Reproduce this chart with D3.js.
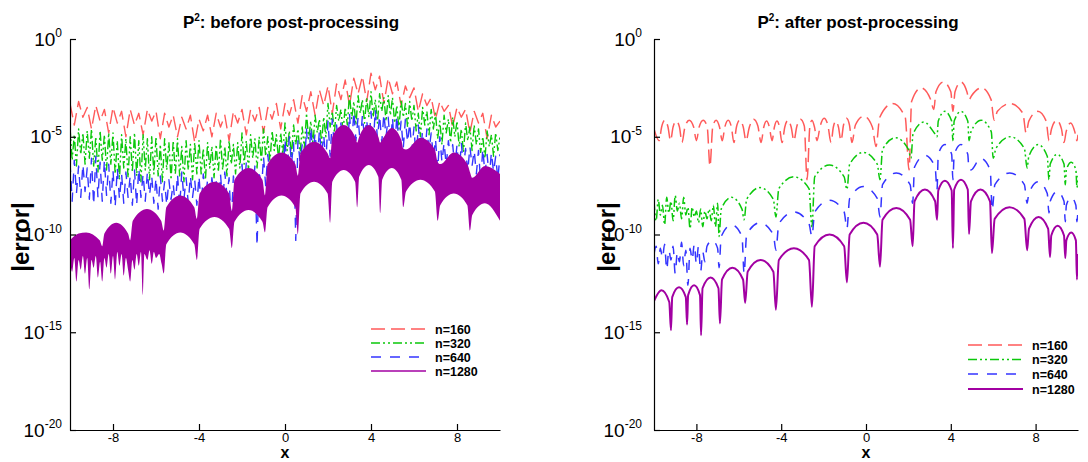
<!DOCTYPE html>
<html><head><meta charset="utf-8">
<script src="https://cdn.jsdelivr.net/npm/d3@7"></script>
<style>body{margin:0;background:#fff;} text{font-family:"Liberation Sans",Arial,sans-serif;fill:#000;}</style>
</head><body><svg id="c" width="1088" height="462"></svg>
<script>
// ---------- ticks / categories ----------
const xTicks = [-8, -4, 0, 4, 8];
const yTickExps = [0, -5, -10, -15, -20];
const seriesNames = ["n=160", "n=320", "n=640", "n=1280"];
const titles = ["before post-processing", "after post-processing"];

// ---------- LEFT panel (values are log10|error|) ----------
// evenly spaced over x in [-10,10]
const leftRed = [-3.3,-4.4,-3.2,-4.0,-3.5,-4.6,-3.4,-4.2,-3.6,-4.8,
 -3.5,-4.3,-3.7,-5.0,-3.6,-4.4,-3.8,-4.9,-3.6,-4.2,
 -3.7,-5.1,-3.8,-4.5,-3.9,-5.0,-4.0,-4.6,-3.9,-5.3,
 -4.1,-4.7,-3.9,-5.0,-3.8,-4.5,-3.9,-5.2,-3.7,-4.3,
 -3.6,-4.9,-3.6,-4.2,-3.5,-4.8,-3.5,-4.1,-3.3,-4.6,
 -3.3,-3.9,-3.1,-4.3,-2.9,-3.7,-2.7,-3.9,-2.6,-3.4,
 -2.4,-3.8,-2.3,-3.1,-2.1,-3.4,-2.0,-2.8,-1.9,-3.2,
 -1.75,-2.6,-1.9,-3.3,-2.0,-2.8,-2.2,-3.4,-2.4,-3.0,
 -2.5,-3.7,-2.8,-3.4,-3.0,-4.1,-3.2,-3.7,-3.4,-4.5,
 -3.5,-4.0,-3.6,-4.8,-3.7,-4.3,-3.8,-5.1,-3.9,-4.5,
 -4.2];
const leftGreen = [
 -4.5,-6.2,-4.9,-6.5,-4.6,-5.9,-4.8,-6.4,-4.7,-6.1,
 -4.6,-6.5,-5.0,-6.8,-4.7,-6.2,-4.9,-6.7,-4.8,-6.4,
 -4.8,-6.9,-5.2,-7.2,-4.9,-6.6,-5.1,-7.1,-5.0,-6.8,
 -4.8,-7.0,-5.2,-7.3,-4.9,-6.7,-5.1,-7.2,-5.0,-6.9,
 -5.0,-7.0,-5.4,-7.3,-5.1,-6.7,-5.3,-7.2,-5.2,-6.9,
 -5.1,-7.0,-5.5,-7.3,-5.2,-6.7,-5.4,-7.2,-5.3,-6.9,
 -5.2,-6.9,-5.6,-7.2,-5.3,-6.6,-5.5,-7.1,-5.4,-6.8,
 -5.1,-6.7,-5.5,-7.0,-5.2,-6.4,-5.4,-6.9,-5.3,-6.6,
 -4.8,-6.4,-5.2,-6.7,-4.9,-6.1,-5.1,-6.6,-5.0,-6.3,
 -4.6,-6.0,-5.0,-6.3,-4.7,-5.7,-4.9,-6.2,-4.8,-5.9,
 -4.3,-5.7,-4.7,-6.0,-4.4,-5.4,-4.6,-5.9,-4.5,-5.6,
 -3.8,-5.1,-4.2,-5.4,-3.9,-4.8,-4.1,-5.3,-4.0,-5.0,
 -3.3,-4.5,-3.7,-4.8,-3.4,-4.2,-3.6,-4.7,-3.5,-4.4,
 -2.8,-4.1,-3.2,-4.4,-2.9,-3.8,-3.1,-4.3,-3.0,-4.0,
 -2.7,-4.0,-3.1,-4.3,-2.8,-3.7,-3.0,-4.2,-2.9,-3.9,
 -3.0,-4.3,-3.4,-4.6,-3.1,-4.0,-3.3,-4.5,-3.2,-4.2,
 -3.4,-4.7,-3.8,-5.0,-3.5,-4.4,-3.7,-4.9,-3.6,-4.6,
 -3.8,-5.1,-4.2,-5.4,-3.9,-4.8,-4.1,-5.3,-4.0,-5.0,
 -4.2,-5.5,-4.6,-5.8,-4.3,-5.2,-4.5,-5.7,-4.4,-5.4,
 -4.6,-5.8,-5.0,-6.1,-4.7,-5.5,-4.9,-6.0,-4.8,-5.7,
 -5.0];
const leftBlue = [
 -6.3,-8.3,-6.2,-7.9,-6.5,-8.1,-6.4,-7.8,-6.6,-8.2,
 -6.1,-8.5,-6.0,-8.1,-6.3,-8.3,-6.2,-8.0,-6.4,-8.4,
 -6.7,-8.6,-6.6,-8.2,-6.9,-8.4,-6.8,-8.1,-7.0,-8.5,
 -6.7,-8.5,-6.6,-8.1,-6.9,-8.3,-6.8,-8.0,-7.0,-8.4,
 -7.1,-8.7,-7.0,-8.3,-7.3,-8.5,-7.2,-8.2,-7.4,-8.6,
 -6.9,-8.6,-6.8,-8.2,-7.1,-8.4,-7.0,-8.1,-7.2,-8.5,
 -7.0,-8.6,-6.9,-8.2,-7.2,-8.4,-7.1,-8.1,-7.3,-8.5,
 -6.9,-8.4,-6.8,-8.0,-7.1,-9.5,-7.0,-7.9,-7.2,-8.3,
 -6.4,-8.0,-6.3,-7.6,-6.6,-7.8,-6.5,-10.6,-6.7,-7.9,
 -6.0,-7.5,-5.9,-7.1,-6.2,-7.3,-6.1,-7.0,-6.3,-7.4,
 -5.1,-6.8,-5.0,-6.4,-5.3,-10.3,-5.2,-6.3,-5.4,-6.7,
 -4.6,-6.4,-4.5,-6.0,-4.8,-6.2,-4.7,-5.9,-4.9,-6.3,
 -4.2,-6.0,-4.1,-5.6,-4.4,-5.8,-4.3,-5.5,-4.5,-5.9,
 -3.8,-5.6,-3.7,-5.2,-4.0,-5.4,-3.9,-5.1,-4.1,-5.5,
 -3.7,-5.5,-3.6,-5.1,-3.9,-5.3,-3.8,-5.0,-4.0,-5.4,
 -4.0,-5.8,-3.9,-5.4,-4.2,-5.6,-4.1,-5.3,-4.3,-5.7,
 -4.5,-6.2,-4.4,-5.8,-4.7,-6.0,-4.6,-5.7,-4.8,-6.1,
 -5.1,-6.7,-5.0,-6.3,-5.3,-6.5,-5.2,-6.2,-5.4,-6.6,
 -5.4,-7.0,-5.3,-6.6,-5.6,-6.8,-5.5,-6.5,-5.7,-6.9,
 -5.7,-7.3,-5.6,-6.9,-5.9,-7.1,-5.8,-6.8,-6.0,-7.2,
 -5.9];
// n=1280 (dense oscillation, drawn as band): [x, log10] upper and lower envelopes
const leftPurpleUpper = [[-10,-10.3],[-9.6,-9.95],[-9.25,-9.9],[-8.62,-10.3],[-8.5,-10.6],
 [-8.4,-9.95],[-7.85,-9.4],[-7.3,-9.95],[-7.2,-10.3],
 [-7.08,-9.3],[-6.42,-8.7],[-5.76,-9.3],[-5.64,-9.8],
 [-5.52,-8.6],[-4.87,-8.0],[-4.22,-8.6],[-4.1,-9.2],
 [-3.97,-7.9],[-3.28,-7.3],[-2.6,-7.9],[-2.47,-8.8],
 [-2.35,-7.2],[-1.7,-6.6],[-1.05,-7.2],[-0.93,-8.0],
 [-0.81,-6.4],[-0.16,-5.8],[0.48,-6.4],[0.6,-7.0],
 [0.72,-5.85],[1.35,-5.25],[1.98,-5.85],[2.1,-6.1],
 [2.2,-5.0],[2.73,-4.4],[3.26,-5.0],[3.36,-5.3],
 [3.45,-5.0],[3.9,-4.4],[4.34,-5.0],[4.43,-5.3],
 [4.52,-5.15],[4.97,-4.55],[5.41,-5.15],[5.5,-5.6],
 [5.63,-5.65],[6.3,-5.05],[6.97,-5.65],[7.1,-6.3],
 [7.22,-6.4],[7.85,-5.8],[8.48,-6.4],[8.6,-6.8],
 [8.71,-7.1],[9.3,-6.5],[10,-6.9]];
const leftPurpleLower = [[-10,-11.3],[-9.9,-11.9],[-9.8,-11.2],[-9.7,-12.4],[-9.6,-11.3],[-9.5,-11.8],
 [-9.4,-11.1],[-9.3,-12.0],[-9.2,-11.2],[-9.1,-12.8],[-9.0,-11.3],[-8.9,-11.7],[-8.8,-11.1],
 [-8.7,-12.2],[-8.6,-11.4],[-8.5,-12.4],[-8.4,-11.2],[-8.3,-11.7],[-8.2,-11.0],[-8.1,-12.0],
 [-8.0,-11.1],[-7.9,-12.3],[-7.8,-10.9],[-7.7,-11.6],[-7.6,-11.0],[-7.5,-12.1],[-7.4,-11.2],
 [-7.3,-11.8],[-7.2,-12.4],[-7.1,-11.3],[-7.0,-11.8],[-6.9,-11.0],[-6.8,-11.6],[-6.7,-10.9],
 [-6.62,-13.1],[-6.54,-11.0],[-6.4,-11.3],[-6.3,-10.8],[-6.2,-11.5],[-6.1,-10.9],[-6.0,-11.2],
 [-5.85,-11.0],[-5.74,-11.5],[-5.64,-12.0],
 [-5.52,-10.5],[-4.87,-9.9],[-4.22,-10.5],[-4.1,-11.3],
 [-3.97,-9.7],[-3.28,-9.1],[-2.6,-9.7],[-2.47,-10.7],
 [-2.35,-9.35],[-1.7,-8.75],[-1.05,-9.35],[-0.93,-9.9],
 [-0.81,-8.6],[-0.16,-8.0],[0.48,-8.6],[0.6,-10.0],
 [0.72,-7.9],[1.35,-7.3],[1.98,-7.9],[2.1,-9.4],
 [2.2,-7.3],[2.73,-6.7],[3.26,-7.3],[3.36,-8.6],
 [3.45,-7.05],[3.9,-6.45],[4.34,-7.05],[4.43,-8.9],
 [4.52,-7.2],[4.97,-6.6],[5.41,-7.2],[5.5,-8.6],
 [5.63,-7.8],[6.3,-7.2],[6.97,-7.8],[7.1,-9.3],
 [7.22,-8.5],[7.85,-7.9],[8.48,-8.5],[8.6,-9.8],
 [8.71,-9.0],[9.3,-8.4],[10,-9.3]];

// ---------- RIGHT panel: [x, log10|error|] ----------
const rightRed = [[-10,-4.6],
 [-9.76,-5.2],[-9.64,-4.5],[-9.49,-4.15],[-9.34,-4.5],
 [-9.22,-5.2],[-9.1,-4.5],[-8.95,-4.2],[-8.8,-4.5],
 [-8.68,-5.3],[-8.55,-4.55],[-8.34,-4.15],[-8.13,-4.5],
 [-8.0,-5.2],[-7.87,-4.5],[-7.68,-4.15],[-7.49,-4.5],
 [-7.36,-6.5],[-7.23,-4.5],[-7.07,-4.15],[-6.91,-4.5],
 [-6.78,-5.2],[-6.66,-4.5],[-6.5,-4.15],[-6.35,-4.5],
 [-6.23,-5.3],[-6.11,-4.5],[-5.95,-4.15],[-5.79,-4.5],
 [-5.66,-5.2],[-5.5,-4.5],[-5.3,-4.1],[-5.1,-4.45],
 [-4.95,-5.3],[-4.82,-4.5],[-4.69,-4.2],[-4.56,-4.5],
 [-4.43,-5.2],[-4.32,-4.5],[-4.2,-4.2],[-4.08,-4.5],
 [-3.96,-5.3],[-3.83,-4.5],[-3.68,-4.15],[-3.53,-4.5],
 [-3.40,-5.2],[-3.27,-4.5],[-3.09,-4.1],[-2.91,-4.45],
 [-2.78,-7.2],[-2.65,-4.5],[-2.55,-4.15],[-2.43,-4.5],
 [-2.31,-5.2],[-2.16,-4.45],[-1.98,-4.05],[-1.8,-4.4],
 [-1.65,-5.3],[-1.54,-4.5],[-1.42,-4.2],[-1.3,-4.5],
 [-1.18,-5.2],[-1.06,-4.4],[-0.92,-4.05],[-0.78,-4.4],
 [-0.66,-5.3],[-0.5,-4.4],[-0.1,-3.95],[0.3,-4.5],
 [0.47,-5.5],[0.65,-4.0],[1.25,-3.3],[1.85,-4.0],
 [2.03,-6.7],[2.15,-3.2],[2.6,-2.5],[3.05,-3.1],
 [3.2,-3.6],[3.3,-2.7],[3.65,-2.2],[4.0,-2.7],
 [4.1,-3.7],[4.2,-2.7],[4.48,-2.2],[4.76,-2.7],
 [4.86,-3.1],[4.98,-2.9],[5.45,-2.5],[5.9,-3.1],
 [6.04,-4.15],[6.2,-3.7],[6.8,-3.3],[7.4,-3.8],
 [7.55,-4.8],[7.68,-4.2],[8.1,-3.7],[8.5,-4.2],
 [8.63,-5.2],[8.75,-4.6],[9.0,-4.15],[9.22,-4.6],
 [9.34,-5.3],[9.44,-4.75],[9.65,-4.3],[9.85,-4.75],
 [9.95,-5.2],[10,-4.9]];
const rightGreen = [[-10,-8.3],[-9.9,-9.3],[-9.8,-8.2],[-9.7,-9.0],[-9.6,-8.5],[-9.5,-9.5],
 [-9.4,-8.1],[-9.3,-8.9],[-9.2,-8.3],[-9.1,-9.3],[-9.0,-8.0],[-8.9,-8.8],[-8.8,-8.4],
 [-8.7,-9.2],[-8.6,-8.1],[-8.5,-9.0],[-8.4,-8.6],[-8.3,-9.7],[-8.2,-8.6],[-8.1,-9.1],
 [-8.0,-8.8],[-7.9,-9.4],[-7.8,-8.7],[-7.7,-9.6],[-7.6,-8.8],[-7.5,-9.2],[-7.4,-8.7],
 [-7.3,-9.3],[-7.2,-8.5],[-7.1,-9.6],[-7.0,-8.4],
 [-6.93,-10.1],[-6.83,-8.7],[-6.34,-8.1],[-5.85,-8.7],
 [-5.75,-9.25],[-5.63,-8.2],[-5.0,-7.6],[-4.37,-8.2],
 [-4.25,-9.1],[-4.11,-7.65],[-3.4,-7.05],[-2.69,-7.65],
 [-2.55,-9.6],[-2.42,-7.05],[-1.72,-6.45],[-1.03,-7.05],
 [-0.9,-7.7],[-0.77,-6.4],[-0.12,-5.8],[0.53,-6.4],
 [0.66,-7.2],[0.78,-5.65],[1.39,-5.05],[2.0,-5.65],
 [2.12,-6.1],[2.22,-4.85],[2.73,-4.25],[3.25,-4.85],
 [3.35,-5.0],[3.41,-4.2],[3.72,-3.7],[4.04,-4.2],
 [4.1,-5.2],[4.16,-4.2],[4.48,-3.7],[4.8,-4.2],
 [4.86,-5.2],[4.95,-4.75],[5.43,-4.15],[5.91,-4.75],
 [6.0,-6.1],[6.13,-5.6],[6.8,-5.0],[7.47,-5.6],
 [7.6,-6.6],[7.68,-6.0],[8.12,-5.4],[8.55,-6.0],
 [8.63,-7.2],[8.69,-6.4],[9.02,-5.9],[9.34,-6.4],
 [9.4,-7.45],[9.45,-6.7],[9.68,-6.3],[9.9,-6.7],
 [9.95,-7.6],[10,-7.0]];
const rightBlue = [[-10,-11.0],[-9.9,-10.6],[-9.8,-11.5],[-9.7,-10.7],[-9.6,-11.2],[-9.5,-10.5],
 [-9.4,-11.8],[-9.3,-10.8],[-9.2,-11.3],[-9.1,-10.6],[-9.0,-12.0],[-8.9,-10.9],[-8.8,-11.4],
 [-8.7,-10.4],[-8.6,-11.6],[-8.5,-10.8],[-8.4,-12.6],[-8.3,-10.7],[-8.2,-11.3],[-8.1,-10.5],
 [-8.0,-11.5],[-7.9,-10.6],[-7.8,-11.9],[-7.7,-10.9],[-7.6,-11.4],
 [-7.5,-10.6],[-7.25,-10.3],[-7.0,-10.7],
 [-6.93,-11.7],[-6.83,-10.1],[-6.34,-9.5],[-5.85,-10.1],
 [-5.75,-12.0],[-5.63,-10.0],[-5.0,-9.4],[-4.37,-10.0],
 [-4.25,-10.8],[-4.11,-9.45],[-3.4,-8.85],[-2.69,-9.45],
 [-2.55,-10.1],[-2.42,-8.85],[-1.72,-8.25],[-1.03,-8.85],
 [-0.9,-9.7],[-0.77,-8.15],[-0.12,-7.55],[0.53,-8.15],
 [0.66,-9.1],[0.78,-7.45],[1.43,-6.85],[2.08,-7.45],
 [2.2,-8.4],[2.29,-6.55],[2.78,-5.95],[3.26,-6.55],
 [3.35,-7.7],[3.41,-5.9],[3.72,-5.4],[4.04,-5.9],
 [4.1,-7.2],[4.16,-5.9],[4.48,-5.4],[4.8,-5.9],
 [4.86,-6.7],[4.95,-6.7],[5.4,-6.1],[5.86,-6.7],
 [5.95,-8.75],[6.08,-7.45],[6.78,-6.85],[7.47,-7.45],
 [7.6,-8.4],[7.68,-7.9],[8.12,-7.3],[8.55,-7.9],
 [8.63,-8.9],[8.69,-8.3],[9.02,-7.8],[9.34,-8.3],
 [9.4,-9.35],[9.45,-8.5],[9.68,-8.1],[9.9,-8.5],
 [9.95,-9.35],[10,-8.7]];
const rightPurple = [[-10,-13.4],[-9.65,-12.85],[-9.28,-13.45],
 [-9.2,-14.9],[-9.14,-13.2],[-8.82,-12.7],[-8.5,-13.2],
 [-8.44,-14.6],[-8.39,-13.1],[-8.11,-12.6],[-7.83,-13.1],
 [-7.78,-15.15],[-7.71,-12.75],[-7.33,-12.2],[-6.96,-12.75],
 [-6.89,-14.55],[-6.79,-12.3],[-6.3,-11.7],[-5.8,-12.3],
 [-5.7,-13.5],[-5.58,-11.9],[-4.98,-11.3],[-4.37,-11.9],
 [-4.25,-13.85],[-4.11,-11.3],[-3.4,-10.7],[-2.69,-11.3],
 [-2.55,-13.7],[-2.42,-10.6],[-1.72,-10.0],[-1.03,-10.6],
 [-0.9,-12.45],[-0.77,-10.0],[-0.12,-9.4],[0.53,-10.0],
 [0.66,-11.65],[0.78,-9.25],[1.43,-8.65],[2.08,-9.25],
 [2.2,-10.6],[2.29,-8.3],[2.78,-7.7],[3.26,-8.3],
 [3.35,-9.25],[3.41,-7.75],[3.72,-7.25],[4.04,-7.75],
 [4.1,-10.7],[4.16,-7.7],[4.48,-7.2],[4.8,-7.7],
 [4.86,-9.97],[4.95,-8.3],[5.4,-7.7],[5.85,-8.3],
 [5.94,-10.95],[6.07,-9.2],[6.77,-8.6],[7.47,-9.2],
 [7.6,-10.8],[7.69,-9.7],[8.14,-9.1],[8.59,-9.7],
 [8.68,-11.15],[8.74,-10.05],[9.04,-9.55],[9.34,-10.05],
 [9.4,-11.2],[9.45,-10.3],[9.68,-9.9],[9.9,-10.3],
 [9.95,-12.3],[10,-11.0]];

// ---------- styles ----------
const colors = ["#ff5a5a", "#0bc80b", "#3434ff", "#a200a2"];
const dashes = ["14,6", "9,3,2,3,2,3", "10,9", null];

const svg = d3.select("#c");
const yTop = 39, yBot = 430;
const panels = [
  {x0: 70, x1: 500, labGap: 8, yLabX: 29, titleX: 291, legX: 371, legY: [329, 343, 357, 371]},
  {x0: 654, x1: 1078, labGap: 12, yLabX: 615, titleX: 858, legX: 968, legY: [345, 359.5, 374, 389]}
];

function toPairs(arr) {
  const step = 20 / (arr.length - 1);
  return arr.map((v, i) => [-10 + i * step, v]);
}

panels.forEach((p, pi) => {
  const x = d3.scaleLinear().domain([-10, 10]).range([p.x0, p.x1]);
  const y = d3.scaleLog().domain([1e-20, 1]).range([yBot, yTop]);
  const Y = e => y(Math.pow(10, e));
  const g = svg.append("g");

  const clipId = "clip" + pi;
  svg.append("clipPath").attr("id", clipId).append("rect")
    .attr("x", p.x0).attr("y", yTop).attr("width", p.x1 - p.x0).attr("height", yBot - yTop);
  const plot = g.append("g").attr("clip-path", `url(#${clipId})`);

  const lineLin = d3.line().x(d => x(d[0])).y(d => Y(d[1]));
  const lineMono = d3.line().x(d => x(d[0])).y(d => Y(d[1])).curve(d3.curveMonotoneX);

  let series;
  if (pi === 0) {
    series = [
      {d: lineLin(toPairs(leftRed)), i: 0, w: 1.4},
      {d: lineLin(toPairs(leftGreen)), i: 1, w: 1.4},
      {d: lineLin(toPairs(leftBlue)), i: 2, w: 1.4}
    ];
  } else {
    series = [
      {d: lineMono(rightRed), i: 0, w: 1.5},
      {d: lineMono(rightGreen), i: 1, w: 1.5},
      {d: lineMono(rightBlue), i: 2, w: 1.5},
      {d: lineMono(rightPurple), i: 3, w: 2}
    ];
  }
  series.forEach(s => {
    plot.append("path").attr("d", s.d).attr("fill", "none")
      .attr("stroke", colors[s.i]).attr("stroke-width", s.w)
      .attr("stroke-dasharray", dashes[s.i]).attr("stroke-linejoin", "round");
  });

  if (pi === 0) {
    // dense n=1280 oscillation -> band between envelopes
    const upArea = d3.area().x(d => x(d[0])).y0(yBot).y1(d => Y(d[1])).curve(d3.curveMonotoneX);
    const loArea = d3.area().x(d => x(d[0])).y0(yTop).y1(d => Y(d[1])).curve(d3.curveMonotoneX);
    svg.append("clipPath").attr("id", "band0").append("path").attr("d", loArea(leftPurpleLower));
    plot.append("g").attr("clip-path", "url(#band0)")
      .append("path").attr("d", upArea(leftPurpleUpper)).attr("fill", colors[3]);
  }

  // axes
  const yAxis = d3.axisLeft(y).tickValues(yTickExps.map(e => Math.pow(10, e)))
    .tickSize(-6).tickSizeOuter(0).tickFormat("");
  const xAxis = d3.axisBottom(x).tickValues(xTicks).tickSize(-6).tickSizeOuter(0)
    .tickPadding(3).tickFormat(d => String(d));
  const ya = g.append("g").attr("transform", `translate(${p.x0},0)`).call(yAxis);
  const xa = g.append("g").attr("transform", `translate(0,${yBot})`).call(xAxis);
  [ya, xa].forEach(a => {
    a.selectAll("path,line").attr("stroke", "#000").attr("stroke-width", 1.2);
  });
  xa.selectAll("text").attr("font-size", 13).attr("font-family", '"Liberation Sans",Arial,sans-serif').attr("fill", "#000");

  yTickExps.forEach(e => {
    const t = g.append("text").attr("x", p.x0 - p.labGap).attr("y", Y(e) + 6.5)
      .attr("text-anchor", "end").attr("font-size", 19);
    t.append("tspan").text("10");
    t.append("tspan").attr("dy", -8.5).attr("font-size", 12).text(String(e));
  });

  // title
  const tt = g.append("text").attr("x", p.titleX).attr("y", 28)
    .attr("text-anchor", "middle").attr("font-size", 17).attr("font-weight", "bold");
  tt.append("tspan").text("P");
  tt.append("tspan").attr("dy", -7).attr("font-size", 10).text("2");
  tt.append("tspan").attr("dy", 7).text(": " + titles[pi]);

  // axis titles
  g.append("text").attr("transform", `translate(${p.yLabX},${237}) rotate(-90)`)
    .attr("text-anchor", "middle").attr("font-size", 24).attr("font-weight", "bold").text("|error|");
  g.append("text").attr("x", (p.x0 + p.x1) / 2).attr("y", 458)
    .attr("text-anchor", "middle").attr("font-size", 16).attr("font-weight", "bold").text("x");

  // legend
  seriesNames.forEach((n, i) => {
    const ly = p.legY[i];
    g.append("line").attr("x1", p.legX).attr("x2", p.legX + 55).attr("y1", ly).attr("y2", ly)
      .attr("stroke", colors[i]).attr("stroke-width", (i === 3 && pi === 1) ? 2 : 1.5)
      .attr("stroke-dasharray", dashes[i]);
    g.append("text").attr("x", p.legX + 64).attr("y", ly + 4.5).attr("font-size", 12.5)
      .attr("font-weight", "bold").text(n);
  });
});
</script>
</body></html>
